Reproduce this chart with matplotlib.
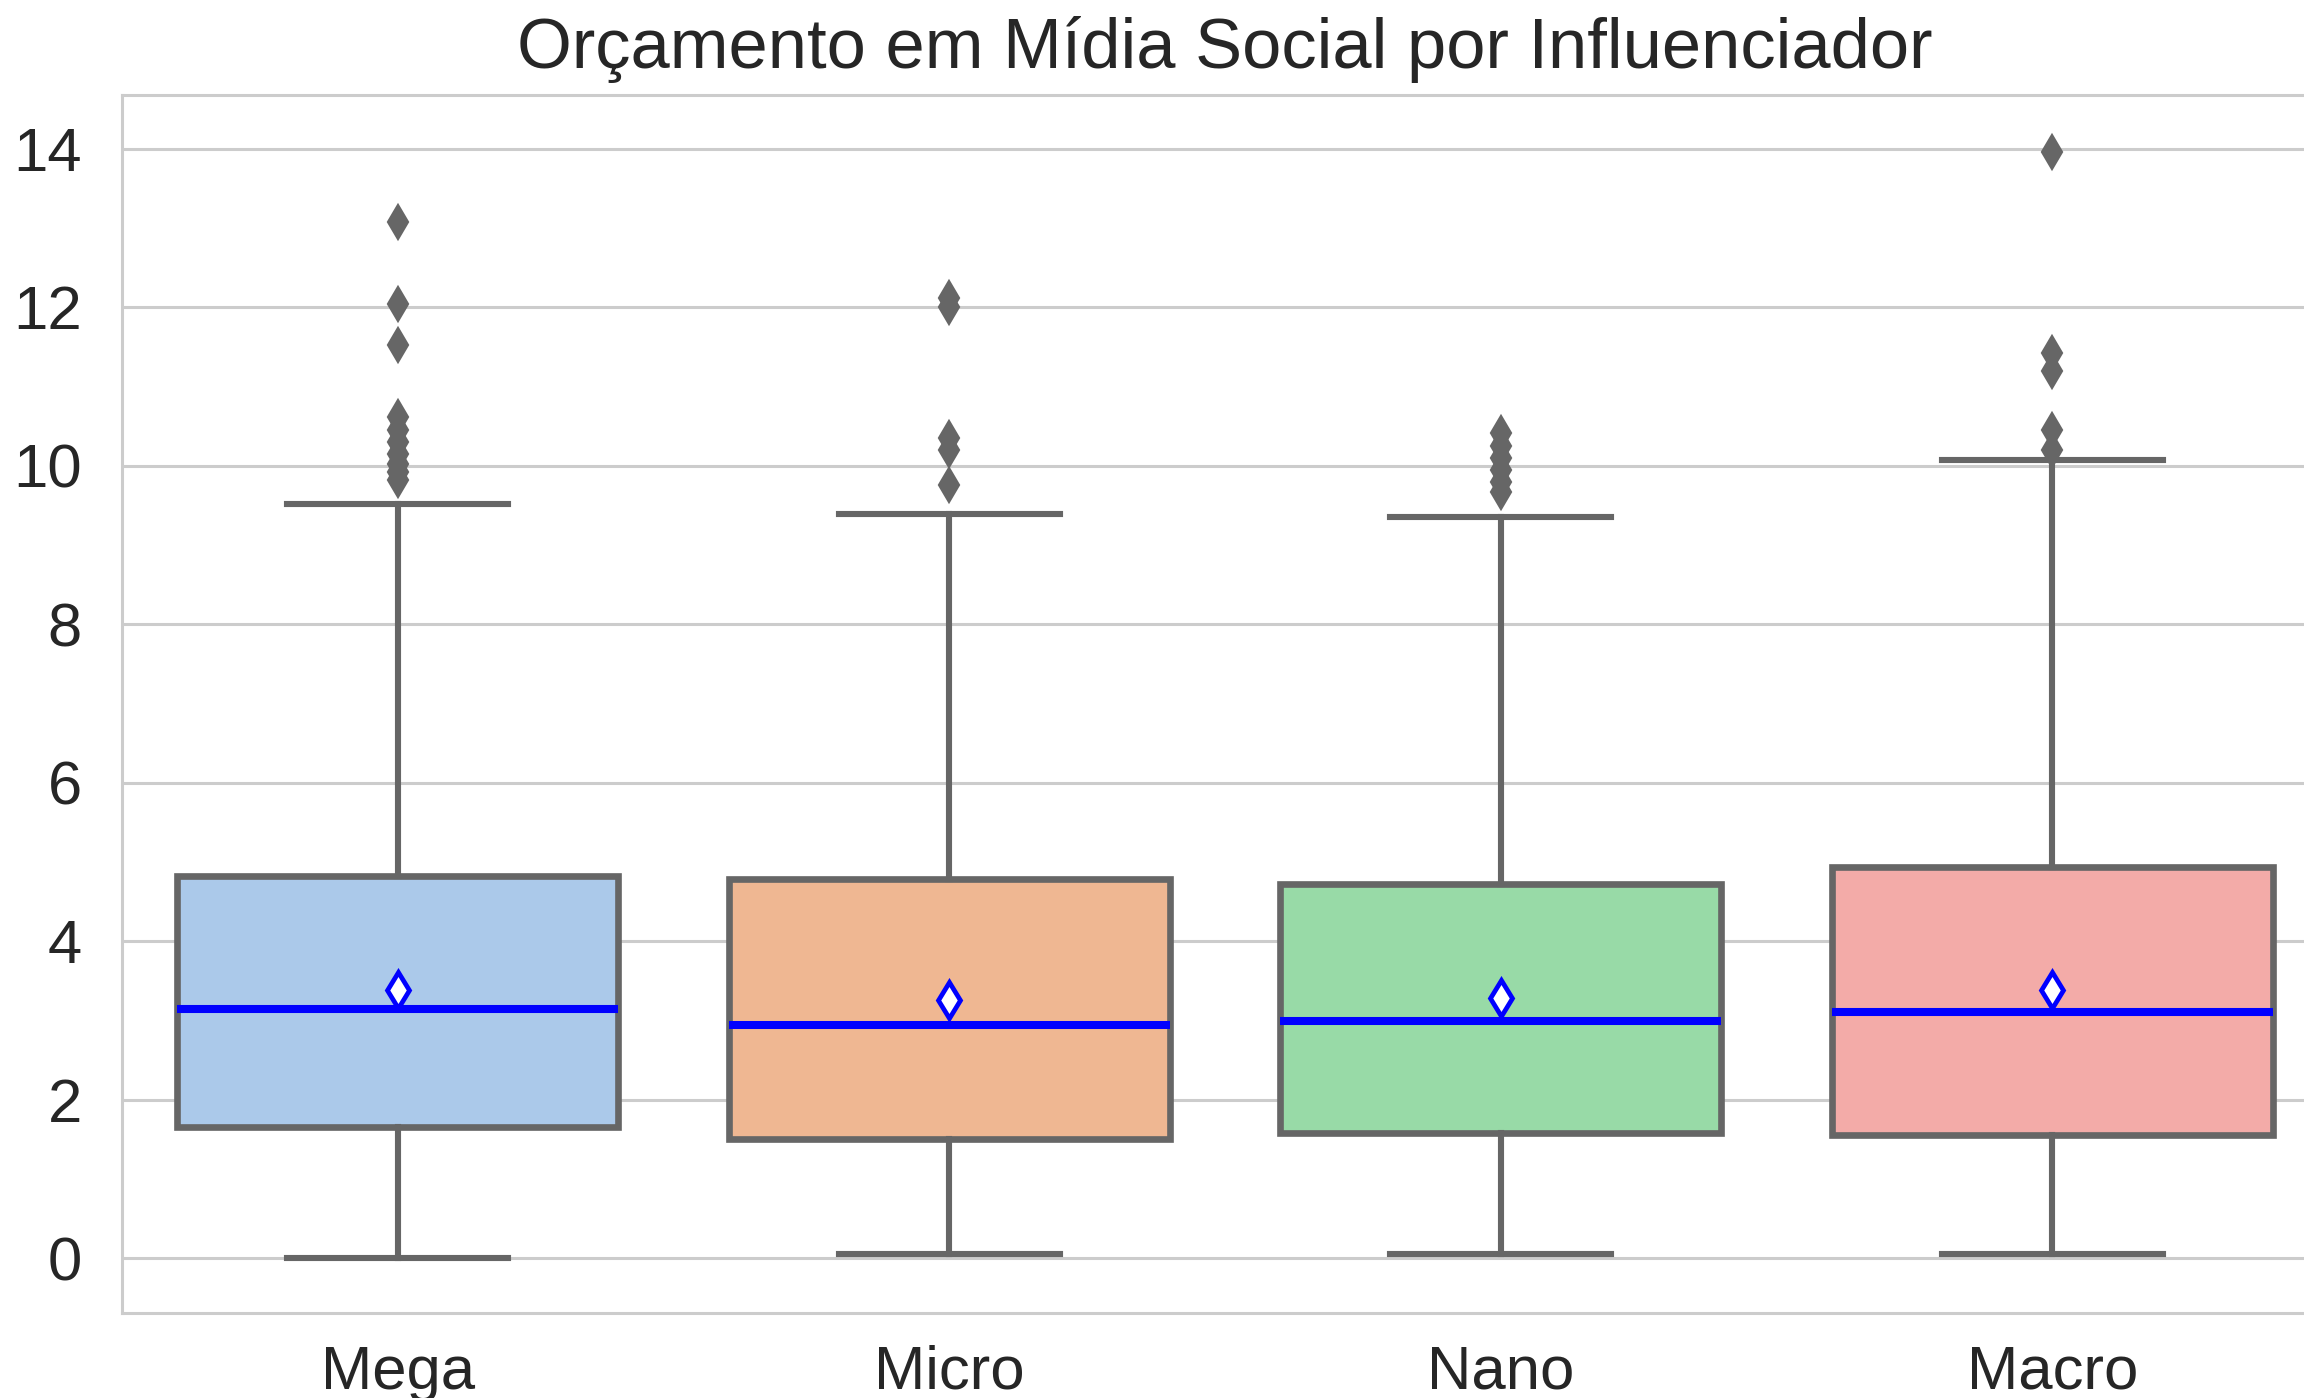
import colorsys
import matplotlib
matplotlib.use("Agg")
import matplotlib.pyplot as plt
from matplotlib.colors import to_rgb

categories = ["Mega", "Micro", "Nano", "Macro"]
q1 = [1.66, 1.50, 1.58, 1.55]
medians = [3.15, 2.94, 3.00, 3.11]
q3 = [4.83, 4.79, 4.72, 4.94]
means = [3.39, 3.26, 3.29, 3.39]
whisker_low = [0.01, 0.05, 0.05, 0.05]
whisker_high = [9.52, 9.39, 9.36, 10.07]
outliers = [
    [9.82, 9.92, 10.02, 10.15, 10.3, 10.45, 10.62, 11.52, 12.04, 13.08],
    [9.76, 10.2, 10.35, 12.0, 12.12],
    [9.67, 9.8, 9.95, 10.1, 10.25, 10.42],
    [10.2, 10.45, 11.2, 11.42, 13.96],
]
palette = ["#a1c9f4", "#ffb482", "#8de5a1", "#ff9f9b"]
title = "Orçamento em Mídia Social por Influenciador"


def desaturate(color, prop):
    h, l, s = colorsys.rgb_to_hls(*to_rgb(color))
    return colorsys.hls_to_rgb(h, l, s * prop)


plt.rcParams["font.family"] = ["Liberation Sans", "DejaVu Sans"]

fig = plt.figure(figsize=(11.52, 6.99), dpi=200)
# axes runs a bit past the right edge, like the cropped reference
ax = fig.add_axes([122 / 2304, 1 - 1313 / 1398, 2206 / 2304, 1218 / 1398])

stats = []
for i in range(len(categories)):
    stats.append({
        "med": medians[i], "q1": q1[i], "q3": q3[i], "mean": means[i],
        "whislo": whisker_low[i], "whishi": whisker_high[i],
        "fliers": outliers[i], "label": categories[i],
    })

gray = "#666666"
res = ax.bxp(
    stats, positions=range(len(categories)), widths=0.8, capwidths=0.4,
    patch_artist=True, showmeans=True, manage_ticks=False,
    boxprops=dict(edgecolor=gray, linewidth=2.4),
    whiskerprops=dict(color=gray, linewidth=2.2),
    capprops=dict(color=gray, linewidth=2.2),
    medianprops=dict(color="blue", linewidth=2.9),
    meanprops=dict(marker="d", markerfacecolor="white", markeredgecolor="blue",
                   markersize=9.2, markeredgewidth=1.7),
    flierprops=dict(marker="d", markerfacecolor=gray, markeredgecolor=gray,
                    markersize=8.6, markeredgewidth=0.8),
)
for box, c in zip(res["boxes"], palette):
    box.set_facecolor(desaturate(c, 0.75))

ax.set_xlim(-0.5, 3.5)
ax.set_ylim(-0.69, 14.68)
ax.set_xticks(range(len(categories)))
ax.set_xticklabels(categories)
ax.set_yticks(range(0, 15, 2))
ax.tick_params(axis="y", length=0, pad=14.4, labelsize=22.2, labelcolor="#262626")
ax.tick_params(axis="x", length=0, pad=11.5, labelsize=22.2, labelcolor="#262626")

ax.set_axisbelow(True)
ax.yaxis.grid(True, color="#cccccc", linewidth=1.1)
ax.xaxis.grid(False)
for side in ["top", "left", "bottom", "right"]:
    ax.spines[side].set_color("#cccccc")
    ax.spines[side].set_linewidth(1.1)

ax.set_title(title, fontsize=25.4, color="#262626", pad=9.7)

fig.savefig("out.png", dpi=200)
